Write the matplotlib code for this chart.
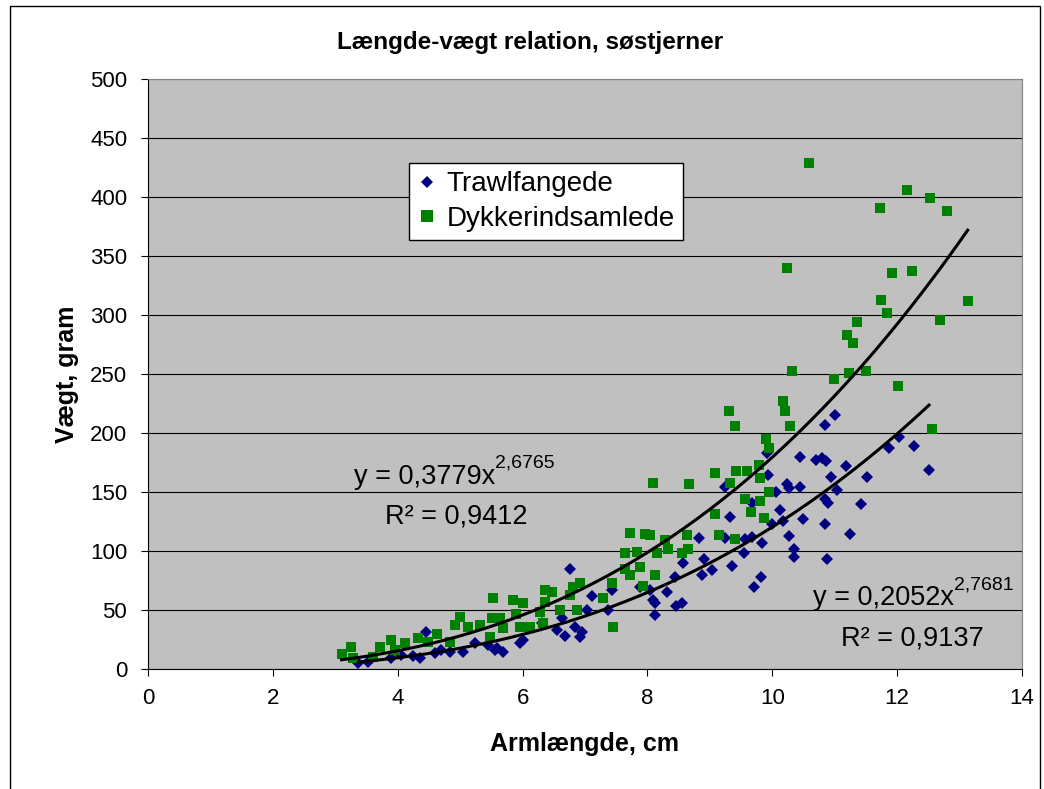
import matplotlib.pyplot as plt
from matplotlib.patches import Rectangle
from matplotlib.lines import Line2D
import numpy as np

plt.rcParams['font.family'] = ['Liberation Sans', 'DejaVu Sans']

# Trawlfangede (blue diamonds)
trawl_x = [3.37, 3.53, 3.90, 4.05, 4.25, 4.36, 4.45, 4.60, 4.70, 4.84, 5.05, 5.24, 5.45, 5.56,
           5.59, 5.69, 5.96, 6.01, 6.31, 6.55, 6.63, 6.68, 6.76, 6.84, 6.92, 6.95, 7.03, 7.11,
           7.37, 7.43, 7.88, 8.04, 8.09, 8.12, 8.12, 8.31, 8.44, 8.46, 8.55, 8.57, 8.82, 8.88,
           8.91, 9.03, 9.25, 9.25, 9.33, 9.36, 9.54, 9.56, 9.67, 9.68, 9.70, 9.82, 9.83, 9.91,
           9.93, 9.99, 10.06, 10.12, 10.17, 10.24, 10.26, 10.27, 10.34, 10.35, 10.45, 10.45,
           10.49, 10.70, 10.80, 10.84, 10.84, 10.85, 10.86, 10.88, 10.89, 10.94, 11.00, 11.03,
           11.18, 11.24, 11.42, 11.51, 11.87, 12.03, 12.27, 12.51]
trawl_y = [4.8, 6.2, 9, 12, 11, 9, 31.6, 13.3, 16, 14.7, 14.7, 21.8, 20, 16,
           17.5, 14.7, 21.8, 24.6, 38.7, 33, 43, 28, 85, 36, 27.4, 31.6, 50, 62,
           50, 67, 69.7, 67, 58.5, 45.8, 55.6, 65.5, 77.7, 53, 56, 90, 111, 80,
           93, 84, 111, 154, 129, 87, 98, 110, 111.6, 141, 69.7, 77.7, 107, 183,
           164, 123, 150, 134.7, 125.7, 156.8, 153, 113, 94.6, 102, 154, 180,
           127, 177, 179, 122.6, 143.8, 207, 176.5, 93, 141, 162.5, 215, 152,
           172, 114, 139.8, 162.5, 187.5, 197, 189, 168.6]

# Dykkerindsamlede (green squares)
dyk_x = [3.10, 3.25, 3.29, 3.61, 3.71, 3.90, 3.96, 4.12, 4.33, 4.49, 4.63, 4.84, 4.92, 5.00,
         5.13, 5.32, 5.48, 5.51, 5.52, 5.64, 5.69, 5.85, 5.90, 5.96, 6.01, 6.12, 6.28, 6.33,
         6.36, 6.36, 6.47, 6.60, 6.76, 6.81, 6.87, 6.92, 7.29, 7.43, 7.45, 7.64, 7.64, 7.72,
         7.72, 7.83, 7.88, 7.93, 7.96, 8.04, 8.09, 8.12, 8.15, 8.28, 8.33, 8.55, 8.63, 8.65,
         8.66, 9.08, 9.08, 9.15, 9.30, 9.32, 9.41, 9.41, 9.42, 9.56, 9.59, 9.66, 9.78, 9.80,
         9.81, 9.87, 9.90, 9.94, 9.94, 10.17, 10.20, 10.23, 10.29, 10.32, 10.59, 10.99, 11.20,
         11.23, 11.29, 11.35, 11.50, 11.72, 11.74, 11.83, 11.92, 12.01, 12.16, 12.23, 12.53,
         12.56, 12.68, 12.80, 13.13]
dyk_y = [12.7, 18.9, 9, 10.4, 18.9, 25, 16, 21.8, 26, 23, 30, 23, 37, 44,
         36, 37, 27, 43, 60.5, 43, 34.5, 58.5, 47, 35.9, 55.6, 35.9, 48.6, 38.7,
         67, 57, 65.5, 50, 62.7, 69.7, 50, 72.6, 59.9, 72.6, 35.9, 98, 85, 115,
         79.6, 99.4, 86.7, 70.3, 114, 113.6, 158, 79.6, 98, 109, 102, 98.6, 113.6, 102,
         156.8, 166, 131, 113.6, 219, 158, 206, 110, 168, 144, 168, 132.8, 173, 142,
         161.6, 128, 195, 187, 150, 227, 219, 340, 206, 252.8, 429, 246, 283,
         251, 276.5, 294, 252.8, 391, 313, 302, 335.6, 239.6, 406, 337, 399,
         203, 296, 388, 311.6]

# power trend lines y = a * x^b
trawl_a, trawl_b, trawl_r2 = 0.2052, 2.7681, 0.9137
dyk_a, dyk_b, dyk_r2 = 0.3779, 2.6765, 0.9412

blue = '#000080'
green = '#008000'

fig = plt.figure(figsize=(10.44, 7.89), dpi=100)
ax = fig.add_axes([148/1044, 120/789, 874/1044, 590/789])
ax.set_facecolor('#C0C0C0')

ax.set_xlim(0, 14)
ax.set_ylim(0, 500)
ax.set_xticks(range(0, 15, 2))
ax.set_yticks(range(0, 501, 50))
ax.yaxis.grid(True, color='black', linewidth=0.8)
ax.set_axisbelow(True)
ax.tick_params(direction='out', length=5, width=0.8, labelsize=16)
ax.tick_params(axis='x', pad=9)
ax.tick_params(axis='y', pad=10)
for side in ['top', 'right']:
    ax.spines[side].set_color('#808080')
for side in ['left', 'bottom']:
    ax.spines[side].set_color('black')

ax.plot(trawl_x, trawl_y, linestyle='none', marker='D', markersize=6,
        color=blue, markeredgewidth=0, zorder=3)
ax.plot(dyk_x, dyk_y, linestyle='none', marker='s', markersize=7.8,
        color=green, markeredgewidth=0, zorder=3)

xs = np.linspace(min(trawl_x), max(trawl_x), 200)
ax.plot(xs, trawl_a * xs ** trawl_b, color='black', linewidth=2.2, zorder=4)
xs = np.linspace(min(dyk_x), max(dyk_x), 200)
ax.plot(xs, dyk_a * xs ** dyk_b, color='black', linewidth=2.2, zorder=4)


def fmt(v):
    return '{:.4f}'.format(v).replace('.', ',')


def equation(x, y, a, b, r2, r2x):
    # "y = a x^b" with the exponent set as a smaller raised text, R² below
    t = ax.text(x, y, 'y = {}x'.format(fmt(a)), fontsize=19.5, va='baseline', zorder=5)
    ax.annotate(fmt(b), xy=(1, 0.7), xycoords=t, fontsize=14, va='bottom', ha='left',
                zorder=5)
    ax.text(r2x, y - 34, 'R\u00b2 = {}'.format(fmt(r2)), fontsize=19.5, va='baseline',
            zorder=5)


equation(3.3, 157, dyk_a, dyk_b, dyk_r2, 3.8)
equation(10.65, 54, trawl_a, trawl_b, trawl_r2, 11.1)

ax.set_xlabel('Armlængde, cm', fontsize=18, fontweight='bold', labelpad=16)
ax.set_ylabel('Vægt, gram', fontsize=18, fontweight='bold', labelpad=8)
fig.text(530/1044, 1 - 42/789, 'Længde-vægt relation, søstjerner', fontsize=17.5,
         fontweight='bold', ha='center', va='center')

handles = [Line2D([], [], linestyle='none', marker='D', markersize=6.5, color=blue,
                  markeredgewidth=0),
           Line2D([], [], linestyle='none', marker='s', markersize=8, color=green,
                  markeredgewidth=0)]
leg = ax.legend(handles, ['Trawlfangede', 'Dykkerindsamlede'], loc='upper left',
                bbox_to_anchor=((409 - 148) / 874, (669 - 163) / 590), fontsize=20,
                frameon=True, fancybox=False, edgecolor='black', framealpha=1,
                handlelength=0.7, handletextpad=0.35, borderpad=0.3, labelspacing=0.3,
                borderaxespad=0)
leg.get_frame().set_linewidth(1)

# outer chart border
fig.patches.append(Rectangle((10/1044, -0.01), 1030/1044, 1 - 6/789 + 0.01,
                             transform=fig.transFigure, fill=False, edgecolor='black',
                             linewidth=1))

fig.savefig('out.png', dpi=100)
